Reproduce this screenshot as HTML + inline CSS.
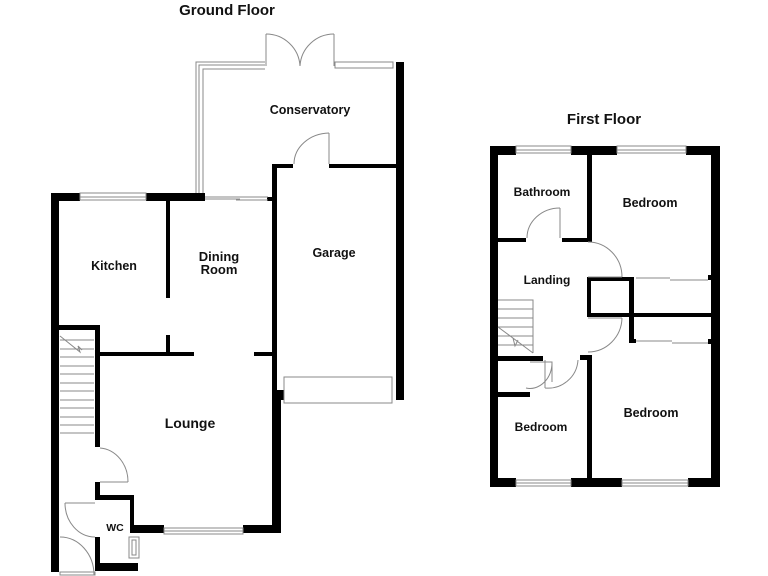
<!DOCTYPE html>
<html><head><meta charset="utf-8"><style>
html,body{margin:0;padding:0;background:#fff;}
svg{display:block;}
text{font-family:"Liberation Sans",Arial,sans-serif;font-weight:bold;fill:#111;text-anchor:middle;}
</style></head><body>
<svg width="768" height="576" viewBox="0 0 768 576" xmlns="http://www.w3.org/2000/svg">
<rect width="768" height="576" fill="#fff"/>
<text x="227" y="15" font-size="15">Ground Floor</text>
<text x="604" y="124" font-size="15">First Floor</text>

<!-- GROUND FLOOR walls -->
<g fill="#000">
<rect x="51" y="193" width="8" height="379"/>
<rect x="51" y="193" width="29" height="8"/>
<rect x="146" y="193" width="59" height="8"/>
<rect x="267" y="197" width="5" height="4"/>
<rect x="166" y="201" width="4" height="97"/>
<rect x="166" y="335" width="4" height="18"/>
<rect x="97" y="352" width="97" height="4"/>
<rect x="254" y="352" width="18" height="4"/>
<rect x="272" y="164" width="5" height="226"/>
<rect x="272" y="164" width="21" height="4"/>
<rect x="329" y="164" width="69" height="4"/>
<rect x="396" y="62" width="8" height="338"/>
<rect x="272" y="390" width="12" height="10"/>
<rect x="272" y="390" width="9" height="143"/>
<rect x="51" y="325" width="49" height="5"/>
<rect x="95" y="325" width="5" height="122"/>
<rect x="95" y="482" width="5" height="18"/>
<rect x="95" y="495" width="38" height="5"/>
<rect x="130" y="495" width="4" height="38"/>
<rect x="130" y="525" width="34" height="8"/>
<rect x="243" y="525" width="38" height="8"/>
<rect x="95" y="537" width="5" height="33"/>
<rect x="95" y="563" width="43" height="8"/>
</g>
<g fill="none" stroke="#888" stroke-width="1">
<!-- kitchen window -->
<rect x="80" y="193" width="66" height="7"/><line x1="80" y1="197" x2="146" y2="197"/>
<!-- conservatory -->
<path d="M196 193 V62 H265 M203 193 V69 H265 M199 193 V65 H265"/>
<rect x="335" y="62" width="58" height="6"/>
<!-- French doors -->
<line x1="266" y1="34" x2="266" y2="66"/>
<line x1="334" y1="34" x2="334" y2="66"/>
<path d="M266 34 A34 34 0 0 1 300 66"/>
<path d="M334 34 A34 34 0 0 0 300 66"/>
<!-- garage door arc -->
<line x1="329" y1="133" x2="329" y2="164"/>
<path d="M329 133 A36 31 0 0 0 294 164"/>
<!-- dining sliding door -->
<line x1="205" y1="197" x2="268" y2="197"/><line x1="236" y1="200" x2="268" y2="200"/><line x1="205" y1="199" x2="240" y2="199"/>
<!-- garage door -->
<rect x="284" y="377" width="108" height="26"/>
<!-- stairs -->
<path d="M60 340 H94 M60 349 H94 M60 357 H94 M60 366 H94 M60 374 H94 M60 383 H94 M60 391 H94 M60 400 H94 M60 408 H94 M60 417 H94 M60 425 H94 M60 433 H94"/>
<path d="M60 336 L80 352 L78 346 L82 350"/>
<!-- hall door -->
<line x1="100" y1="482" x2="128" y2="482"/>
<path d="M100 448 A30 34 0 0 1 128 482"/>
<!-- wc door -->
<line x1="65" y1="503" x2="95" y2="503"/>
<path d="M65 503 A30 34 0 0 0 95 537"/>
<!-- front door -->
<path d="M60 537 A34 38 0 0 1 94 575"/>
<rect x="60" y="572" width="35" height="3"/>
<!-- lounge window -->
<rect x="164" y="528" width="79" height="6"/><line x1="164" y1="531" x2="243" y2="531"/>
<!-- wc window -->
<rect x="129" y="537" width="10" height="21"/><rect x="132" y="540" width="4" height="15"/>
</g>
<text x="310" y="114" font-size="12.5">Conservatory</text>
<text x="114" y="270" font-size="12.5">Kitchen</text>
<text x="219" y="261" font-size="13">Dining</text>
<text x="219" y="274" font-size="13">Room</text>
<text x="334" y="257" font-size="12.5">Garage</text>
<text x="190" y="428" font-size="14">Lounge</text>
<text x="115" y="531" font-size="10.5">WC</text>

<!-- FIRST FLOOR -->
<g fill="#000">
<rect x="490" y="146" width="8" height="341"/>
<rect x="490" y="146" width="26" height="9"/>
<rect x="571" y="146" width="46" height="9"/>
<rect x="686" y="146" width="34" height="9"/>
<rect x="711" y="146" width="9" height="341"/>
<rect x="490" y="478" width="26" height="9"/>
<rect x="571" y="478" width="51" height="9"/>
<rect x="688" y="478" width="32" height="9"/>
<rect x="587" y="154" width="5" height="88"/>
<rect x="498" y="238" width="28" height="4"/>
<rect x="562" y="238" width="30" height="4"/>
<rect x="587" y="277" width="47" height="4"/>
<rect x="587" y="277" width="4" height="40"/>
<rect x="629" y="277" width="5" height="66"/>
<rect x="587" y="313" width="124" height="4"/>
<rect x="629" y="339" width="7" height="4"/>
<rect x="708" y="275" width="4" height="5"/>
<rect x="708" y="339" width="4" height="5"/>
<rect x="587" y="355" width="5" height="124"/>
<rect x="580" y="355" width="12" height="5"/>
<rect x="498" y="356" width="45" height="5"/>
<rect x="498" y="392" width="32" height="5"/>
</g>
<g fill="none" stroke="#888" stroke-width="1">
<rect x="516" y="146" width="55" height="7"/><line x1="516" y1="150" x2="571" y2="150"/>
<rect x="617" y="146" width="69" height="7"/><line x1="617" y1="150" x2="686" y2="150"/>
<rect x="516" y="480" width="55" height="6"/><line x1="516" y1="483" x2="571" y2="483"/>
<rect x="622" y="480" width="66" height="6"/><line x1="622" y1="483" x2="688" y2="483"/>
<line x1="560" y1="208" x2="560" y2="238"/>
<path d="M560 208 A33 30 0 0 0 527 238"/>
<line x1="588" y1="277" x2="622" y2="277"/>
<path d="M588 242 A34 35 0 0 1 622 277"/>
<line x1="588" y1="318" x2="622" y2="318"/>
<path d="M622 318 A34 35 0 0 1 588 352"/>
<path d="M636 278 H670 M670 280 H708 M636 341 H672 M672 343 H708"/>
<path d="M498 300 H533 V353 M498 309 H533 M498 318 H533 M498 327 H533 M498 336 H533 M498 345 H533"/>
<path d="M498 327 L533 353 M513 338 L515 346 L518 340"/>
<path d="M530 362 H552 V382 M552 362 A22 26 0 0 1 526 388"/>
<path d="M545 388 V360 M545 388 A30 30 0 0 0 578 360"/>
</g>
<text x="542" y="196" font-size="12">Bathroom</text>
<text x="650" y="207" font-size="12.5">Bedroom</text>
<text x="547" y="284" font-size="12">Landing</text>
<text x="541" y="431" font-size="12">Bedroom</text>
<text x="651" y="417" font-size="12.5">Bedroom</text>
</svg>
</body></html>
